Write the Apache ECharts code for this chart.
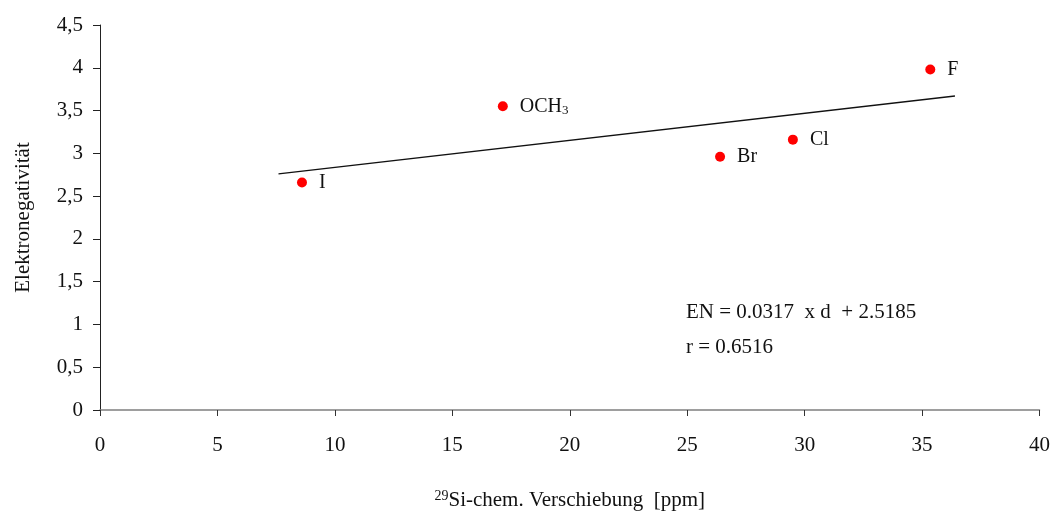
<!DOCTYPE html>
<html>
<head>
<meta charset="utf-8">
<script src="https://cdn.jsdelivr.net/npm/echarts@6/dist/echarts.min.js"></script>
<style>html,body{margin:0;padding:0;background:#fff;}#c{width:1053px;height:517px;}</style>
</head>
<body>
<div id="c"></div>
<script>
var names = ['I', 'OCH3', 'Br', 'Cl', 'F'];
var shifts = [8.6, 17.15, 26.4, 29.5, 35.35];
var electroneg = [2.66, 3.55, 2.96, 3.16, 3.98];
var fitX = [7.6, 36.4];
var fitY = [2.76, 3.67];
var xTicks = [0, 5, 10, 15, 20, 25, 30, 35, 40];
var yTicks = [0, 0.5, 1, 1.5, 2, 2.5, 3, 3.5, 4, 4.5];
var equation = ['EN = 0.0317  x d  + 2.5185', 'r = 0.6516'];

var FONT = 'Liberation Serif';
var chart = echarts.init(document.getElementById('c'));
var pts = names.map(function (n, i) { return { value: [shifts[i], electroneg[i]], name: n }; });
var fit = fitX.map(function (x, i) { return [x, fitY[i]]; });

chart.setOption({
  animation: false,
  backgroundColor: '#fff',
  grid: { left: 100, right: 13, top: 25, bottom: 107 },
  xAxis: {
    type: 'value', min: 0, max: 40, interval: 5,
    name: '{sup|29}{n|Si-chem. Verschiebung  [ppm]}',
    nameLocation: 'middle', nameGap: 79,
    nameTextStyle: {
      rich: {
        sup: { fontFamily: FONT, fontSize: 14, color: '#111', verticalAlign: 'top', padding: [0, 0, 9, 0] },
        n: { fontFamily: FONT, fontSize: 21, color: '#111' }
      }
    },
    axisLine: { show: true, lineStyle: { color: '#7f7f7f', width: 1.5 } },
    axisTick: { show: true, length: 6, lineStyle: { color: '#333' } },
    axisLabel: { fontFamily: FONT, fontSize: 21, color: '#111', margin: 25 },
    splitLine: { show: false }
  },
  yAxis: {
    type: 'value', min: 0, max: 4.5, interval: 0.5,
    name: 'Elektronegativität', nameLocation: 'middle', nameGap: 66,
    nameTextStyle: { fontFamily: FONT, fontSize: 21, color: '#111' },
    axisLine: { show: true, lineStyle: { color: '#222', width: 1 } },
    axisTick: { show: true, length: 7, lineStyle: { color: '#222' } },
    axisLabel: {
      fontFamily: FONT, fontSize: 21, color: '#111', margin: 17,
      formatter: function (v) { return String(v).replace('.', ','); }
    },
    splitLine: { show: false }
  },
  series: [
    {
      type: 'line', data: fit, symbol: 'none',
      lineStyle: { color: '#111', width: 1.3 }, z: 1
    },
    {
      type: 'scatter', data: pts, symbol: 'circle', symbolSize: 10,
      itemStyle: { color: '#ff0000', opacity: 1 }, z: 3,
      label: {
        show: true, position: 'right', distance: 12,
        formatter: function (p) {
          return p.name === 'OCH3' ? '{n|OCH}{s|3}' : '{n|' + p.name + '}';
        },
        rich: {
          n: { fontFamily: FONT, fontSize: 20, color: '#111' },
          s: { fontFamily: FONT, fontSize: 13, color: '#111', verticalAlign: 'bottom', padding: [9, 0, 0, 0] }
        }
      }
    }
  ],
  graphic: [
    { type: 'text', left: 686, top: 302, style: { text: equation[0], font: '21px "' + FONT + '"', fill: '#111' } },
    { type: 'text', left: 686, top: 337, style: { text: equation[1], font: '21px "' + FONT + '"', fill: '#111' } }
  ]
});
</script>
</body>
</html>
